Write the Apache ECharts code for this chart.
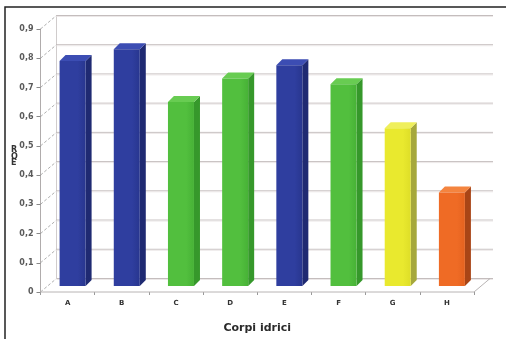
<!DOCTYPE html>
<html><head><meta charset="utf-8">
<script src="https://cdn.jsdelivr.net/npm/echarts@6/dist/echarts.min.js"></script>
<style>html,body{margin:0;padding:0;background:#fff}#c{width:506px;height:339px}</style>
</head><body><div id="c"></div>
<script>
const categories = ['A','B','C','D','E','F','G','H'];
const rqeValues = [0.77, 0.81, 0.63, 0.71, 0.755, 0.69, 0.54, 0.32];
const yTicks = [0, 0.1, 0.2, 0.3, 0.4, 0.5, 0.6, 0.7, 0.8, 0.9];
const xAxisTitle = 'Corpi idrici';
const yAxisTitle = 'RQE';

// styles
const palette = {
  blue:   {front:'#2f3e9f', edge:'#28368f', side:'#1f2a72', top:'#3c4db3'},
  green:  {front:'#52bf3e', edge:'#47b236', side:'#36982b', top:'#68cc52'},
  yellow: {front:'#e9e92e', edge:'#dede28', side:'#a6a83c', top:'#efef5c'},
  orange: {front:'#ef6b25', edge:'#e4621f', side:'#a94516', top:'#f4843f'}
};
const barColorKeys = ['blue','blue','green','green','blue','green','yellow','orange'];
const DEPTH = [16, -13.5];      // wall depth offset
const BAR_FRONT = [5, -6];      // bar front face offset
const BAR_DEPTH = [6, -6];      // bar thickness offset

const chart = echarts.init(document.getElementById('c'), null, {renderer:'canvas'});

function fmt(v){ return v === 0 ? '0' : v.toFixed(1).replace('.', ','); }

function renderWall(params, api){
  const v = api.value(1);
  const band = api.size([1,0])[0];
  const p = api.coord([0, v]);
  const xL = p[0] - band/2;
  const xR = xL + band*categories.length;
  const y = p[1];
  const bx = xL + DEPTH[0], by = y + DEPTH[1];
  const children = [
    {type:'line', shape:{x1:xL, y1:y, x2:bx, y2:by}, style:{stroke:'#9a9a9a', lineWidth:0.8, lineDash:[3,2]}},
    {type:'line', shape:{x1:bx, y1:by, x2:xR+DEPTH[0]+3, y2:by}, style:{stroke:'#c4bdbd', lineWidth:1}},
    {type:'line', shape:{x1:bx, y1:by+1, x2:xR+DEPTH[0]+3, y2:by+1}, style:{stroke:'#ece8e8', lineWidth:1}}
  ];
  if (v === 0) {
    const top = api.coord([0, yTicks[yTicks.length-1]]);
    children.push({type:'line', shape:{x1:bx, y1:by, x2:bx, y2:top[1]+DEPTH[1]}, style:{stroke:'#d0cccc', lineWidth:1}});
    children.push({type:'line', shape:{x1:xL, y1:y, x2:xR, y2:y}, style:{stroke:'#b8b4b4', lineWidth:1}});
    children.push({type:'line', shape:{x1:xR, y1:y, x2:xR+DEPTH[0], y2:by}, style:{stroke:'#b8b4b4', lineWidth:1}});
  }
  return {type:'group', children};
}

function renderBar(params, api){
  const i = api.value(0), v = api.value(1);
  const base = api.coord([i, 0]);
  const top = api.coord([i, v]);
  const band = api.size([1,0])[0];
  const w = band*0.48;
  const c = palette[barColorKeys[i]];
  const x0 = base[0] - w/2 + BAR_FRONT[0], x1 = x0 + w;
  const yb = base[1] + BAR_FRONT[1], yt = top[1] + BAR_FRONT[1];
  const dx = BAR_DEPTH[0], dy = BAR_DEPTH[1];
  return {type:'group', children:[
    {type:'polygon', shape:{points:[[x1,yb],[x1,yt],[x1+dx,yt+dy],[x1+dx,yb+dy]]}, style:{fill:c.side}},
    {type:'polygon', shape:{points:[[x0,yt],[x1,yt],[x1+dx,yt+dy],[x0+dx,yt+dy]]}, style:{fill:c.top}},
    {type:'rect', shape:{x:x0, y:yt, width:w, height:yb-yt},
      style:{fill:new echarts.graphic.LinearGradient(0,0,1,0,[{offset:0,color:c.front},{offset:0.7,color:c.front},{offset:1,color:c.edge}]) }}
  ]};
}

chart.setOption({
  backgroundColor:'#ffffff',
  animation:false,
  grid:{left:40.5, right:32, top:29, bottom:45},
  graphic:[
    {type:'rect', shape:{x:5, y:7, width:520, height:360}, style:{fill:'none', stroke:'#222', lineWidth:1.5}, z:100},
    {type:'text', left:11, top:146, style:{text:yAxisTitle.split('').join('\n'), font:'bold 8px "DejaVu Sans", sans-serif', fill:'#333', lineHeight:6.5}}
  ],
  xAxis:{
    type:'category', data:categories,
    name:xAxisTitle, nameLocation:'middle', nameGap:31,
    nameTextStyle:{fontFamily:'"DejaVu Sans", sans-serif', fontWeight:'bold', fontSize:11, color:'#2a2a2a'},
    axisLine:{show:false},
    axisTick:{show:true, length:3, lineStyle:{color:'#999'}},
    axisLabel:{margin:8, fontSize:7, fontWeight:'bold', color:'#333', fontFamily:'"DejaVu Sans", sans-serif'},
    splitLine:{show:false}
  },
  yAxis:{
    type:'value', min:0, max:0.9, interval:0.1,
    axisLine:{show:true, lineStyle:{color:'#b0acac'}},
    axisTick:{show:true, length:4, lineStyle:{color:'#888'}},
    axisLabel:{margin:7, fontSize:8, fontWeight:'bold', color:'#5a5a5a', formatter:fmt, fontFamily:'"DejaVu Sans", sans-serif'},
    splitLine:{show:false}
  },
  series:[
    {type:'custom', renderItem:renderWall, data:yTicks.map(v=>[0,v]), z:1, silent:true},
    {type:'custom', renderItem:renderBar, data:rqeValues.map((v,i)=>[i,v]), z:5}
  ]
});
</script></body></html>
